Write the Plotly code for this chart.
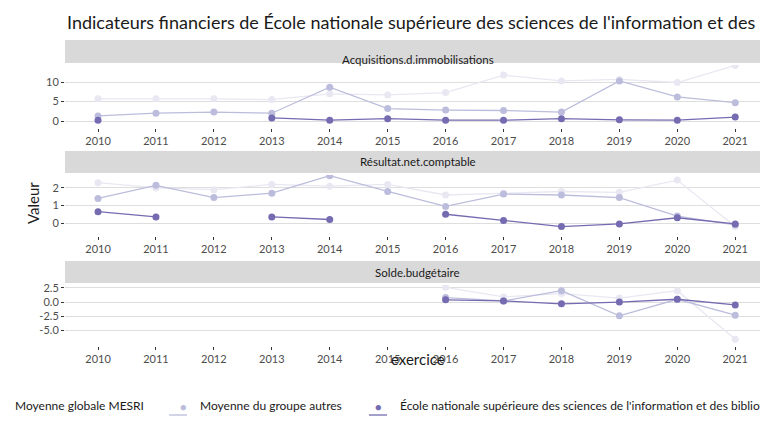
import plotly.graph_objects as go

years = list(range(2010, 2022))
panels = ["Acquisitions.d.immobilisations", "Résultat.net.comptable", "Solde.budgétaire"]
series_names = ["Moyenne globale MESRI", "Moyenne du groupe autres",
                "École nationale supérieure des sciences de l'information et des bibliothèques"]
colors = ["#e9e7f2", "#bcbddc", "#756bb1"]

acq_mesri = [5.7, 5.7, 5.7, 5.5, 7.0, 6.7, 7.3, 11.8, 10.3, 10.7, 9.9, 14.3]
acq_groupe = [1.3, 2.0, 2.3, 2.0, 8.7, 3.2, 2.8, 2.7, 2.3, 10.3, 6.2, 4.7]
acq_ecole = [0.2, None, None, 0.8, 0.2, 0.6, 0.2, 0.2, 0.6, 0.3, 0.2, 1.0]

res_mesri = [2.3, 2.0, 1.9, 2.2, 2.1, 2.2, 1.6, 1.7, 1.8, 1.75, 2.45, -0.2]
res_groupe = [1.4, 2.15, 1.45, 1.7, 2.7, 1.8, 0.95, 1.65, 1.6, 1.45, 0.4, -0.1]
res_ecole = [0.65, 0.35, None, 0.35, 0.2, None, 0.5, 0.15, -0.2, -0.05, 0.3, -0.05]

sol_mesri = [None]*6 + [2.6, 0.9, 1.5, 0.7, 2.0, -6.5]
sol_groupe = [None]*6 + [0.8, 0.2, 2.0, -2.4, 0.5, -2.3]
sol_ecole = [None]*6 + [0.4, 0.2, -0.3, 0.0, 0.5, -0.5]

data = [[acq_mesri, acq_groupe, acq_ecole],
        [res_mesri, res_groupe, res_ecole],
        [sol_mesri, sol_groupe, sol_ecole]]

H, W = 432, 768
L, R = 57, 6
PW = W - L - R
def py(p):
    return 1 - p / H
def px(p):
    return (p - L) / PW

plot_px = [(57, 120), (167, 228), (277, 338)]
strip_px = [(32, 55), (143, 165), (253, 275)]
yranges = [[-1.8, 14.4], [-0.74, 2.74], [-7.7, 3.0]]
ytv = [[0, 5, 10], [0, 1, 2], [-5, -2.5, 0, 2.5]]
ytt = [["0", "5", "10"], ["0", "1", "2"], ["-5.0", "-2.5", "0.0", "2.5"]]

fig = go.Figure()
layout = {}
for i in range(3):
    xa = "x" if i == 0 else f"x{i+1}"
    ya = "y" if i == 0 else f"y{i+1}"
    for j in range(3):
        fig.add_trace(go.Scatter(
            x=years, y=data[i][j], mode="lines+markers", name=series_names[j],
            line=dict(color=colors[j], width=1.3), marker=dict(color=colors[j], size=7),
            xaxis=xa, yaxis=ya, showlegend=False))
    top, bot = plot_px[i]
    layout["xaxis" if i == 0 else f"xaxis{i+1}"] = dict(
        domain=[0, 1], anchor=ya, range=[2009.43, 2021.6], tickvals=years,
        showgrid=False, zeroline=False, ticks="outside", ticklen=3, tickcolor="#333",
        tickfont=dict(size=11, color="#4d4d4d"))
    layout["yaxis" if i == 0 else f"yaxis{i+1}"] = dict(
        domain=[py(bot), py(top)], anchor=xa, range=yranges[i], tickvals=ytv[i],
        ticktext=ytt[i], showgrid=True, gridcolor="#dedede", zeroline=False,
        ticks="outside", ticklen=3, tickcolor="#333", tickfont=dict(size=11, color="#4d4d4d"))
    st, sb = strip_px[i]
    fig.add_shape(type="rect", xref="paper", yref="paper", x0=0, x1=1, y0=py(sb), y1=py(st),
                  fillcolor="#d9d9d9", line=dict(width=0), layer="below")
    fig.add_annotation(text=panels[i], xref="paper", yref="paper", x=0.5, y=py((st + sb) / 2),
                       showarrow=False, font=dict(size=11.5, color="#1a1a1a"))

fig.update_layout(**layout)

# manual legend (the reference legend overflows both edges)
leg_y = py(407)
leg_marker_px = [-15, 170, 370]
leg_text_px = [5, 190, 390]
for j in range(3):
    fig.add_shape(type="line", xref="paper", yref="paper",
                  x0=px(leg_marker_px[j] - 9), x1=px(leg_marker_px[j] + 9), y0=leg_y, y1=leg_y,
                  line=dict(color=colors[j], width=1.3))
    fig.add_annotation(text="●", xref="paper", yref="paper", x=px(leg_marker_px[j]), y=leg_y,
                       showarrow=False, font=dict(size=11, color=colors[j]))
    fig.add_annotation(text=series_names[j], xref="paper", yref="paper", x=px(leg_text_px[j]),
                       y=leg_y, xanchor="left", showarrow=False, font=dict(size=12, color="#1a1a1a"))

fig.add_annotation(text="Indicateurs financiers de École nationale supérieure des sciences de l'information et des bibliothèques",
                   xref="paper", yref="paper", x=0, y=py(14), xanchor="left", yanchor="middle",
                   showarrow=False, font=dict(size=18, color="#1a1a1a"))
fig.add_annotation(text="Valeur", xref="paper", yref="paper", x=px(14), y=py(195), textangle=-90,
                   showarrow=False, font=dict(size=15, color="#1a1a1a"))
fig.add_annotation(text="exercice", xref="paper", yref="paper", x=0.5, y=py(362),
                   showarrow=False, font=dict(size=15, color="#1a1a1a"))
fig.update_layout(
    width=W, height=H, margin=dict(l=L, r=R, t=0, b=0, autoexpand=False),
    paper_bgcolor="white", plot_bgcolor="white",
    font=dict(family="Lato", color="#1a1a1a"), showlegend=False,
)
fig.write_html("out.html")
